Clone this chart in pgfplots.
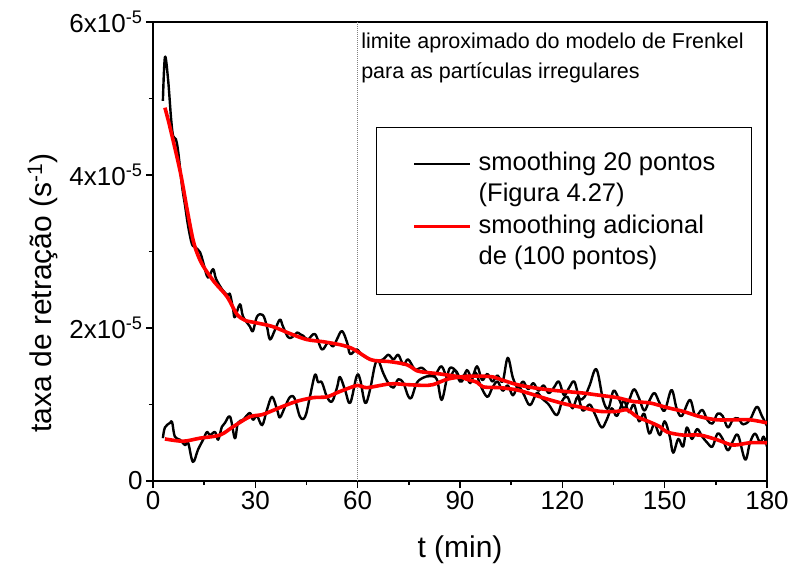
\documentclass[border=0pt]{standalone}
\usepackage{fontspec}
\setmainfont{Liberation Sans}
\usepackage{pgfplots}
\pgfplotsset{compat=1.18}
\usepackage{pgfplotstable}
\definecolor{myred}{RGB}{255,0,0}

\pgfplotstableread{
t v
3.5 4.88
5 4.62
8 4.04
10 3.55
11.7 3.16
13 2.97
14.7 2.81
18 2.60
21.7 2.41
24.6 2.18
27 2.10
30 2.07
35 2.02
40 1.93
45 1.85
50 1.82
55 1.78
58 1.74
60 1.69
63.6 1.59
66 1.57
69.5 1.56
74.4 1.52
77.4 1.44
80 1.42
84 1.40
90 1.36
92 1.33
95 1.29
96.8 1.23
101.7 1.22
106.7 1.19
111.4 1.13
116.4 1.06
121.4 1.00
126 0.96
131 0.91
136 0.91
139 0.93
141.9 0.84
145.7 0.77
148.6 0.71
150.7 0.64
155.4 0.60
160.4 0.60
165.3 0.54
170 0.47
175 0.50
180 0.50
}\redA

\pgfplotstableread{
t v
3.5 0.55
8.8 0.52
13.8 0.56
19.6 0.60
23.5 0.71
28.4 0.84
32.2 0.87
37.2 0.96
42 1.04
47 1.09
51 1.10
54.8 1.17
60 1.25
62.7 1.22
69.5 1.27
74.4 1.26
79.2 1.25
82.1 1.26
86.2 1.33
90 1.36
92 1.37
96.8 1.37
99.7 1.36
101.7 1.33
106.7 1.26
111.4 1.22
116.4 1.19
121 1.17
126 1.15
131 1.12
136 1.09
140.7 1.04
145.7 1.02
150.7 0.96
155.4 0.91
160.4 0.84
165.3 0.80
170 0.80
175 0.80
180 0.76
}\redB

\pgfplotstableread{
t v
2.9 4.97
3.5 5.54
4.4 5.26
5.3 4.74
5.9 4.51
6.7 4.47
7.4 4.30
8.5 3.86
9.4 3.60
10.3 3.33
11.4 3.10
12.3 3.06
13.8 2.99
14.7 2.86
16.1 2.66
17.6 2.77
18.5 2.64
20.5 2.49
22 2.43
22.6 2.44
23.5 2.24
24 2.14
25.5 2.31
26.4 2.15
28.4 2.02
29.3 1.96
30.5 2.15
32.2 2.17
33.4 2.02
34.3 1.85
35.8 1.98
37.2 2.11
38.1 2.02
39.6 1.88
40.8 1.88
42.2 1.94
43.1 1.92
44 1.90
45.4 1.85
47.5 1.92
49.5 1.72
51.3 1.81
52.8 1.76
53.9 1.85
55.4 1.96
56.9 1.81
57.8 1.66
59.7 1.72
61.2 1.65
63.6 1.59
65.6 1.57
67.5 1.59
69 1.65
70.5 1.59
71.9 1.65
73.4 1.52
74.8 1.59
76.8 1.46
78.8 1.48
80.7 1.41
82.7 1.39
84.6 1.50
86.5 1.33
88.5 1.45
90 1.30
91.5 1.40
93 1.28
94.5 1.42
96 1.25
98 1.10
99.5 1.22
101 1.30
102.5 1.18
104 1.25
105.5 1.12
107 1.24
108.5 1.15
110.5 0.99
112.5 1.15
114 1.08
116 1.00
118.4 0.86
120 1.05
121.5 1.10
123 0.95
124.5 1.10
126 0.92
128 1.00
129.5 0.88
131.5 0.70
133 0.80
134.5 0.95
136 0.85
138 1.05
139.5 0.90
141 1.00
142.5 0.78
144 0.88
145.5 0.62
147 0.75
148.6 0.60
150 0.78
151.5 0.58
152.5 0.37
154 0.55
155.4 0.45
156.5 0.70
158 0.55
159.5 0.68
161 0.58
162.5 0.50
164 0.45
165.5 0.62
167 0.55
168.5 0.40
170 0.52
171.5 0.60
173.6 0.28
175 0.50
176.5 0.62
178 0.50
179 0.58
180 0.45
}\blackA

\pgfplotstableread{
t v
2.9 0.56
3.5 0.70
5 0.76
5.6 0.77
6.4 0.58
7.9 0.54
9.4 0.47
10.3 0.50
11.7 0.25
13.2 0.41
14.7 0.54
15.8 0.64
16.7 0.60
18.2 0.64
19.1 0.54
20.2 0.71
21.1 0.76
22.6 0.84
24 0.56
24.9 0.76
26.4 0.80
28.4 0.89
29.3 0.80
30.5 0.85
32 0.73
33.4 0.93
34.9 1.10
36.4 0.93
37.2 0.83
38.7 0.97
40.2 1.10
41.5 1.08
43.1 0.84
44.6 0.84
46 1.10
47.5 1.39
48.4 1.29
49.5 1.29
51 1.10
52.5 1.04
54 1.23
54.8 1.36
56.3 1.19
57.8 1.02
59.7 1.37
60.7 1.33
62.2 1.02
63.6 1.19
65.1 1.52
66.1 1.57
67.5 1.41
69 1.28
70.5 1.22
71.9 1.33
73.4 1.28
74.8 1.11
75.8 1.09
77.3 1.28
79.2 1.35
81.2 1.37
83.2 1.33
84.6 1.06
86.1 1.33
87.1 1.48
89 1.43
90.5 1.30
92 1.45
93.5 1.35
95 1.50
96.5 1.32
98 1.40
99.5 1.30
101 1.38
102.5 1.30
104 1.61
105.5 1.35
107 1.22
108.5 1.30
110 1.20
111.5 1.28
113 1.18
114.5 1.25
116 1.15
117.5 1.22
119 1.30
120.5 1.12
122 1.22
123.5 1.30
125 1.08
126.5 1.10
128 1.25
130 1.46
132 1.05
133.5 0.95
135 1.18
136.5 1.08
138 0.95
139.5 1.05
141 1.20
142.5 1.08
144 0.92
145.5 1.05
147 1.15
148.5 1.02
150 0.92
152 1.19
153.5 0.95
155 0.85
157.4 1.06
159 0.85
161 0.93
162.5 0.80
164 0.75
165.5 0.88
167 0.85
168.5 0.70
170 0.80
171.5 0.82
173 0.74
175 0.80
177 0.97
178.5 0.85
180 0.72
}\blackB

\begin{document}
\begin{tikzpicture}[x=1pt,y=1pt]
\useasboundingbox (-153,-89) rectangle (636,481);
\begin{axis}[
  at={(0,0)}, anchor=south west,
  width=614pt, height=459pt, scale only axis,
  xmin=0, xmax=180, ymin=0, ymax=6,
  axis line style={line width=1.4pt},
  xtick={0,30,...,180}, minor xtick={15,45,...,165},
  ytick={0,2,4,6}, minor ytick={1,3,5},
  yticklabels={0, 2x10\textsuperscript{-5}, 4x10\textsuperscript{-5}, 6x10\textsuperscript{-5}},
  tick align=outside, tick pos=left,
  major tick length=7pt, minor tick length=4pt,
  every tick/.style={line width=1.4pt, black},
  ticklabel style={font=\fontsize{26}{30}\selectfont},
  /pgf/number format/assume math mode=true,
  xlabel={t (min)},
  ylabel={taxa de retração (s\textsuperscript{-1})},
  label style={font=\fontsize{30}{34}\selectfont},
  xlabel style={at={(axis description cs:0.5,-0.15)}, anchor=center},
  ylabel style={at={(axis description cs:-0.18,0.41)}, anchor=center},
  legend image code/.code={\draw[#1] (0pt,0pt) -- (56pt,0pt);},
  legend style={at={(axis cs:65.4,4.63)}, anchor=north west, draw=black, line width=1.2pt,
    inner xsep=36pt, inner ysep=24pt, row sep=7pt, column sep=7pt,
    font=\fontsize{25.5}{30}\selectfont,
    nodes={inner sep=0pt, text height=19pt, text depth=5.5pt}},
  legend cell align=left,
]
\addplot[gray, densely dotted, line width=1pt, forget plot] coordinates {(60,0) (60,6)};
\addplot[black, line width=2.4pt, smooth, tension=0.6, line join=round, forget plot] table[x=t,y=v] {\blackA};
\addplot[black, line width=2.4pt, smooth, tension=0.6, line join=round, forget plot] table[x=t,y=v] {\blackB};
\addplot[myred, line width=3.6pt, smooth, line join=round, forget plot] table[x=t,y=v] {\redA};
\addplot[myred, line width=3.6pt, smooth, line join=round, forget plot] table[x=t,y=v] {\redB};
\addlegendimage{black, line width=2pt}
\addlegendentry{smoothing 20 pontos}
\addlegendimage{empty legend}
\addlegendentry{(Figura 4.27)}
\addlegendimage{myred, line width=3pt}
\addlegendentry{smoothing adicional}
\addlegendimage{empty legend}
\addlegendentry{de (100 pontos)}
\node[anchor=north west, align=left, inner sep=0pt, font=\fontsize{21.5}{30}\selectfont] at (axis cs:61,5.86) {limite aproximado do modelo de Frenkel\\para as partículas irregulares};
\end{axis}
\end{tikzpicture}
\end{document}
